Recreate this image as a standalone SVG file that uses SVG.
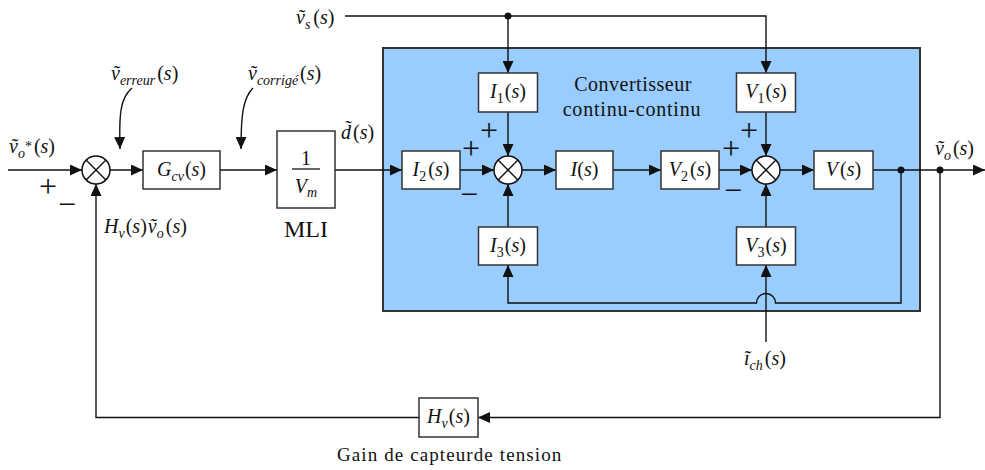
<svg xmlns="http://www.w3.org/2000/svg" width="985" height="470" viewBox="0 0 985 470">
<defs>
<marker id="ar" markerWidth="12" markerHeight="11" refX="12" refY="5.5" orient="auto" markerUnits="userSpaceOnUse">
<path d="M0,0 L12,5.5 L0,11 z" fill="#111"/>
</marker>
</defs>
<style>
text{font-family:"Liberation Serif","Times New Roman",serif;font-size:20px;fill:#111}
.i{font-style:italic}
.sb{font-size:14px;font-style:italic}
.sn{font-size:14px}
.pm{font-size:32px;text-anchor:middle}
.mid{text-anchor:middle}
.box{fill:#fff;stroke:#333;stroke-width:1.5}
.arw{fill:none;stroke:#111;stroke-width:1.4;marker-end:url(#ar)}
.sum circle{fill:#fff;stroke:#111;stroke-width:1.5}
.sum line{stroke:#111;stroke-width:1.4}
.dot{fill:#111}
</style>
<rect x="0" y="0" width="985" height="470" fill="#fff"/>

<g id="converter-area">
<rect x="383" y="48" width="537" height="263" fill="#99CCFF" stroke="#333" stroke-width="2"/>
<text class="mid" x="633" y="91" letter-spacing="0.5">Convertisseur</text>
<text class="mid" x="632" y="116" letter-spacing="0.8">continu-continu</text>
</g>

<g id="connectors">
<path class="arw" d="M8,170 H82"/>
<path class="arw" d="M110,170 H143"/>
<path class="arw" d="M220,170 H277"/>
<path class="arw" d="M335,170 H402"/>
<path class="arw" d="M460,170 H494"/>
<path class="arw" d="M522,170 H556"/>
<path class="arw" d="M613,170 H661"/>
<path class="arw" d="M719,170 H752"/>
<path class="arw" d="M780,170 H814"/>
<path class="arw" d="M873,170 H985"/>
<path class="arw" d="M345,16 H766 V73"/>
<path class="arw" d="M508,16 V73"/>
<path class="arw" d="M508,112 V156"/>
<path class="arw" d="M766,112 V156"/>
<path class="arw" d="M508,227 V184"/>
<path class="arw" d="M766,227 V184"/>
<path class="arw" d="M901,170 V303 H775.5 A9.5,9.5 0 0 0 756.5,303 H508 V265"/>
<path class="arw" d="M766,342 V265"/>
<path class="arw" d="M940,170 V417.5 H478"/>
<path class="arw" d="M419,417.5 H96 V184"/>
<path class="arw" d="M132,88 C120,98 119,115 120,149"/>
<path class="arw" d="M253,88 C243,98 241,115 241,149"/>
<circle class="dot" cx="508" cy="16" r="3.5"/>
<circle class="dot" cx="901" cy="170" r="3.5"/>
<circle class="dot" cx="940" cy="170" r="3.5"/>
</g>

<g id="sum1" class="sum">
<circle cx="96" cy="170" r="14"/>
<line x1="86.1" y1="160.1" x2="105.9" y2="179.9"/><line x1="86.1" y1="179.9" x2="105.9" y2="160.1"/>
<text class="pm" x="48" y="197">+</text>
<text class="pm" x="67" y="215">−</text>
</g>
<g id="sum2" class="sum">
<circle cx="508" cy="170" r="14"/>
<line x1="498.1" y1="160.1" x2="517.9" y2="179.9"/><line x1="498.1" y1="179.9" x2="517.9" y2="160.1"/>
<text class="pm" x="489" y="141">+</text>
<text class="pm" x="471" y="159">+</text>
<text class="pm" x="469" y="205">−</text>
</g>
<g id="sum3" class="sum">
<circle cx="766" cy="170" r="14"/>
<line x1="756.1" y1="160.1" x2="775.9" y2="179.9"/><line x1="756.1" y1="179.9" x2="775.9" y2="160.1"/>
<text class="pm" x="749" y="141">+</text>
<text class="pm" x="731" y="159">+</text>
<text class="pm" x="733" y="201">−</text>
</g>

<g id="Gcv">
<rect class="box" x="143" y="151" width="77" height="38"/>
<text class="mid" x="181.5" y="176"><tspan class="i">G</tspan><tspan class="sb" dy="5">cv</tspan><tspan dy="-5" dx="1">(</tspan><tspan class="i">s</tspan>)</text>
</g>
<g id="MLI">
<rect class="box" x="277" y="131" width="58" height="77"/>
<text class="mid" x="306" y="165">1</text>
<line x1="292" y1="169" x2="320" y2="169" stroke="#111" stroke-width="1.3"/>
<text class="mid" x="306" y="193"><tspan class="i">V</tspan><tspan class="sb" dy="4">m</tspan></text>
<text class="mid" x="306" y="237" style="font-size:24px">MLI</text>
</g>
<g id="I2">
<rect class="box" x="402" y="151" width="58" height="38"/>
<text class="mid" x="431" y="176"><tspan class="i">I</tspan><tspan class="sn" dy="5">2</tspan><tspan dy="-5" dx="2">(</tspan><tspan class="i">s</tspan>)</text>
</g>
<g id="I1">
<rect class="box" x="478.5" y="73" width="59" height="39"/>
<text class="mid" x="508" y="98"><tspan class="i">I</tspan><tspan class="sn" dy="5">1</tspan><tspan dy="-5" dx="1">(</tspan><tspan class="i">s</tspan>)</text>
</g>
<g id="I">
<rect class="box" x="556" y="151" width="57" height="38"/>
<text class="mid" x="584.5" y="176"><tspan class="i">I</tspan>(<tspan class="i">s</tspan>)</text>
</g>
<g id="V2">
<rect class="box" x="661" y="151" width="58" height="38"/>
<text class="mid" x="690" y="176"><tspan class="i">V</tspan><tspan class="sn" dy="5">2</tspan><tspan dy="-5" dx="2">(</tspan><tspan class="i">s</tspan>)</text>
</g>
<g id="V1">
<rect class="box" x="736.5" y="73" width="59" height="39"/>
<text class="mid" x="766" y="98"><tspan class="i">V</tspan><tspan class="sn" dy="5">1</tspan><tspan dy="-5" dx="1">(</tspan><tspan class="i">s</tspan>)</text>
</g>
<g id="V">
<rect class="box" x="814" y="151" width="59" height="38"/>
<text class="mid" x="843.5" y="176"><tspan class="i">V</tspan><tspan dx="2">(</tspan><tspan class="i">s</tspan>)</text>
</g>
<g id="I3">
<rect class="box" x="478.5" y="227" width="59" height="38"/>
<text class="mid" x="508" y="251.5"><tspan class="i">I</tspan><tspan class="sn" dy="5">3</tspan><tspan dy="-5" dx="1">(</tspan><tspan class="i">s</tspan>)</text>
</g>
<g id="V3">
<rect class="box" x="736.5" y="227" width="59" height="38"/>
<text class="mid" x="766" y="251.5"><tspan class="i">V</tspan><tspan class="sn" dy="5">3</tspan><tspan dy="-5" dx="1">(</tspan><tspan class="i">s</tspan>)</text>
</g>
<g id="Hv">
<rect class="box" x="419" y="398" width="59" height="39"/>
<text class="mid" x="448.5" y="423"><tspan class="i">H</tspan><tspan class="sb" dy="5">v</tspan><tspan dy="-5" dx="1">(</tspan><tspan class="i">s</tspan>)</text>
<text x="337" y="461" style="font-size:19px" letter-spacing="1.1">Gain de capteurde tension</text>
</g>

<g id="labels">
<text x="296" y="24"><tspan class="i">ṽ</tspan><tspan class="sb" dy="5">s</tspan><tspan dy="-5" dx="3">(</tspan><tspan class="i">s</tspan>)</text>
<text x="9" y="153"><tspan class="i">ṽ</tspan><tspan class="sb" dy="5">o</tspan><tspan class="sn" dy="-7">*</tspan><tspan dy="2" dx="2">(</tspan><tspan class="i">s</tspan>)</text>
<text x="111" y="80"><tspan class="i">ṽ</tspan><tspan class="sb" dy="5">erreur</tspan><tspan dy="-5" dx="2">(</tspan><tspan class="i">s</tspan>)</text>
<text x="248" y="80"><tspan class="i">ṽ</tspan><tspan class="sb" dy="5">corrigé</tspan><tspan dy="-5" dx="2">(</tspan><tspan class="i">s</tspan>)</text>
<text x="341" y="139"><tspan class="i">d̃</tspan><tspan dx="2">(</tspan><tspan class="i">s</tspan>)</text>
<text x="104" y="233"><tspan class="i">H</tspan><tspan class="sb" dy="5">v</tspan><tspan dy="-5" dx="1">(</tspan><tspan class="i">s</tspan>)<tspan class="i" dx="1">ṽ</tspan><tspan class="sb" dy="5">o</tspan><tspan dy="-5" dx="2">(</tspan><tspan class="i">s</tspan>)</text>
<text x="935" y="155"><tspan class="i">ṽ</tspan><tspan class="sb" dy="5">o</tspan><tspan dy="-5" dx="2">(</tspan><tspan class="i">s</tspan>)</text>
<text x="744" y="365"><tspan class="i">ĩ</tspan><tspan class="sb" dy="5">ch</tspan><tspan dy="-5" dx="2">(</tspan><tspan class="i">s</tspan>)</text>
</g>
</svg>
